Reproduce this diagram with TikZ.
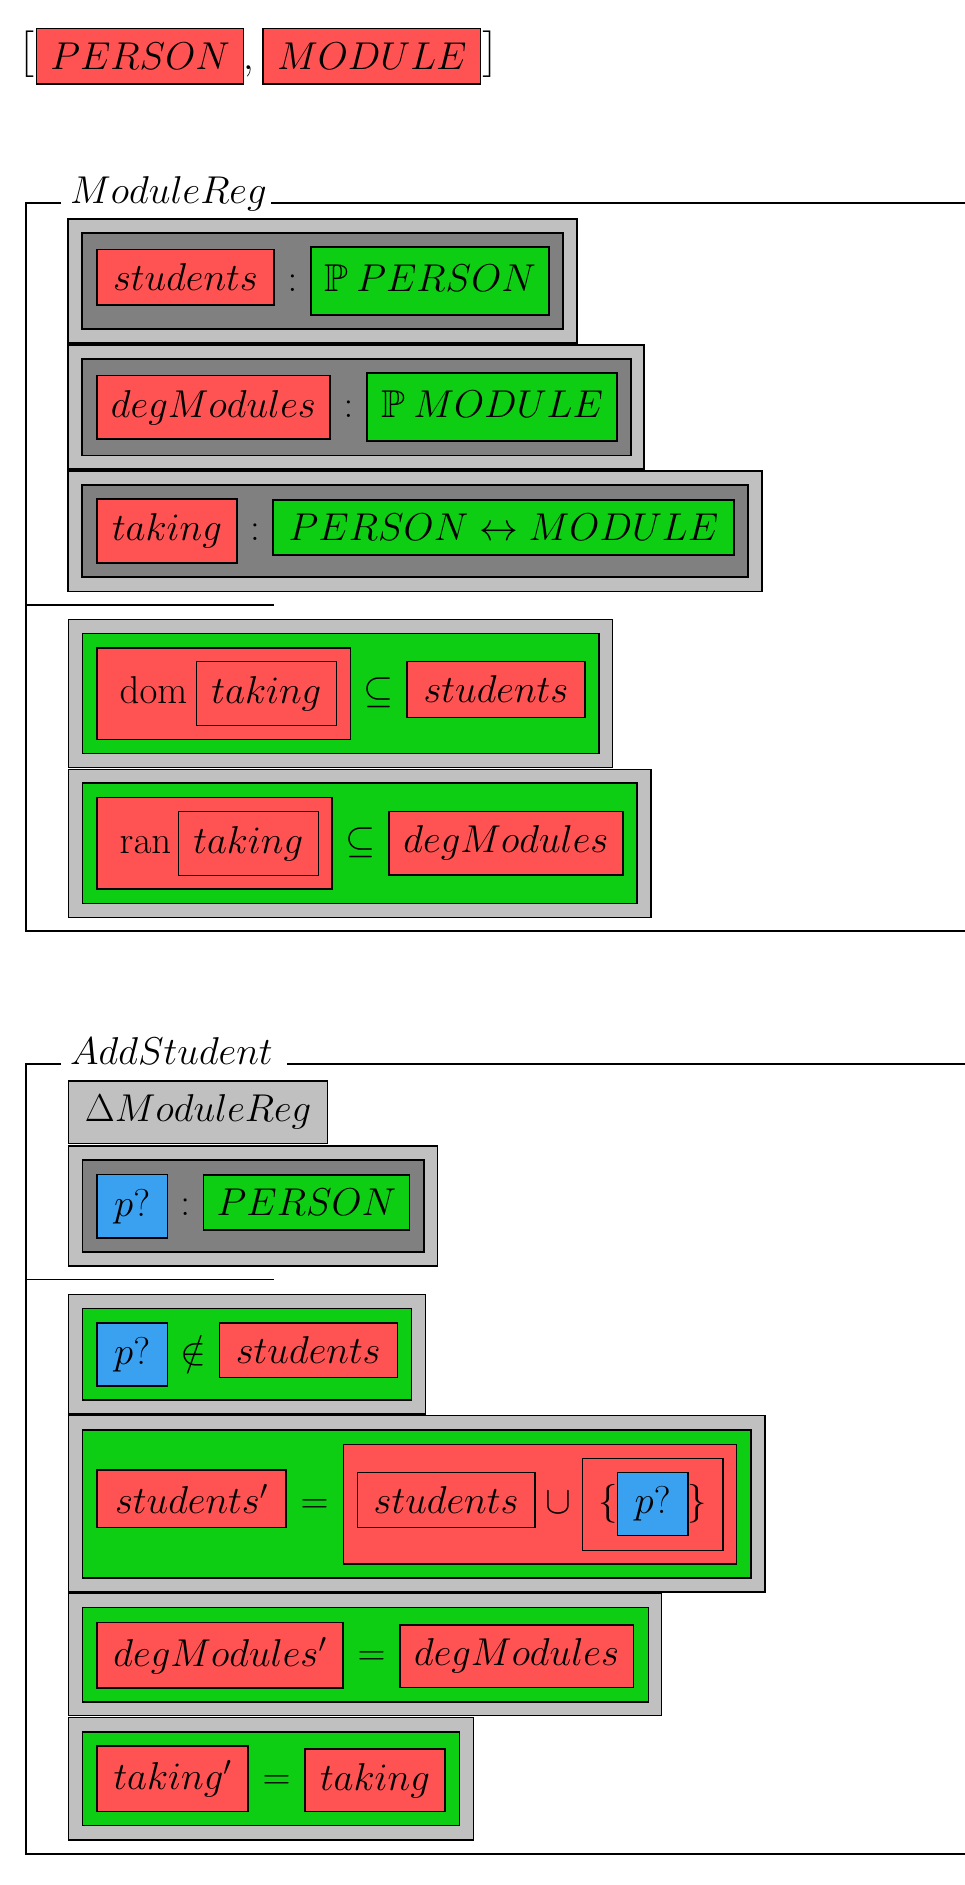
\documentclass[tikz,border=0pt]{standalone}
\usepackage{fix-cm}
\usepackage{amssymb}
\usepackage{tikz}
\usetikzlibrary{calc}

\definecolor{zred}{RGB}{255,82,82}
\definecolor{zgreen}{RGB}{14,206,20}
\definecolor{zblue}{RGB}{58,160,240}
\definecolor{zlight}{RGB}{192,192,192}
\definecolor{zdark}{RGB}{128,128,128}

\tikzset{
	zbox/.style={draw, line width=1.2pt, inner sep=0pt, outer sep=0pt, anchor=north west},
	wh/.style 2 args={minimum width=#1pt, minimum height=#2pt},
	para/.style={zbox, fill=zlight},
	decl/.style={zbox, fill=zdark},
	pred/.style={zbox, fill=zgreen},
	expr/.style={zbox, fill=zred},
	var/.style={zbox, fill=zblue},
	op/.style={inner sep=0pt, anchor=base},
	zline/.style={line width=1.3pt},
}

\begin{document}
\begin{tikzpicture}[x=1pt, y=-1pt, font=\fontsize{38.8}{46}\selectfont]
	\useasboundingbox (0,0) rectangle (965,1885);
	\pgfmathsetmacro{\Xl}{26};
	\pgfmathsetmacro{\Xr}{965};

	\node[expr, wh={207.4}{55.5}] (p0) at (36.4,28.5) {$PERSON$};
	\node[expr, wh={217.7}{55.5}] (m0) at (263,28.5) {$MODULE$};
	\node[op, anchor=east, yshift=1.75pt] (lb) at (p0.west) {$\left[\vrule height 33pt depth 14pt width 0pt\right.$};
	\node[op, anchor=west, yshift=1.75pt] (rb) at (m0.east) {$\left.\vrule height 33pt depth 14pt width 0pt\right]$};
	\node[op, anchor=base west] (cm) at ([xshift=-1pt]p0.base east) {$,$};

	\node[op, anchor=base west] (t1) at (70,203) {$ModuleReg$};
	\draw[zline] (61,203) -- (\Xl,203) -- (\Xl,931) -- (\Xr,931);
	\draw[zline] (271,203) -- (\Xr,203);
	\draw[zline] (\Xl,605) -- (274,605);

	\node[para, wh={509}{124}] (a0) at (68,219) {};
	\node[decl, wh={481}{96}] (a1) at (82,233) {};
	\node[expr, wh={177}{55.5}] (a2) at (97,249.5) {$students$};
	\node[pred, wh={238}{68}, text height=44.8pt, text depth=23.2pt] (a3) at (311,247) {$\mathbb{P}\:PERSON$};
	\node[op] (a4) at ($(a2.base east)!0.5!(a3.base west)$) {$:$};

	\node[para, wh={576}{124}] (b0) at (68,345) {};
	\node[decl, wh={549}{96.5}] (b1) at (82,359) {};
	\node[expr, wh={233}{63.4}] (b2) at (97,375.6) {$degModules$};
	\node[pred, wh={250}{68}, text height=44.3pt, text depth=23.7pt] (b3) at (367,373) {$\mathbb{P}\:MODULE$};
	\node[op] (b4) at ($(b2.base east)!0.5!(b3.base west)$) {$:$};

	\node[para, wh={694}{120.5}] (c0) at (68,471) {};
	\node[decl, wh={666}{92}] (c1) at (82,485) {};
	\node[expr, wh={140}{64}] (c2) at (97,499) {$taking$};
	\node[pred, wh={461}{55}] (c3) at (273,500) {$PERSON \leftrightarrow MODULE$};
	\node[op] (c4) at ($(c2.base east)!0.5!(c3.base west)$) {$:$};

	\node[para, wh={544.4}{148}] (d0) at (68.4,619.3) {};
	\node[pred, wh={516.3}{120.4}] (d1) at (82.7,633.3) {};
	\node[expr, wh={253.5}{91.3}] (d2) at (97,648) {};
	\node[expr, wh={139.7}{63.8}] (d3) at (196.5,661.5) {$taking$};
	\node[op, anchor=base east] (d4) at ([xshift=-9pt]d3.base west) {$\mathrm{dom}$};
	\node[expr, wh={178}{55.6}] (d5) at (407,661.7) {$students$};
	\node[op] (d6) at ($(d2.east |- d5.base)!0.5!(d5.base west)$) {$\subseteq$};

	\node[para, wh={582.6}{148.4}] (e0) at (68.4,769.3) {};
	\node[pred, wh={554.3}{120.3}] (e1) at (82.7,783) {};
	\node[expr, wh={235}{91.3}] (e2) at (97,797.7) {};
	\node[expr, wh={140}{63.7}] (e3) at (178.3,811.5) {$taking$};
	\node[op, anchor=base east] (e4) at ([xshift=-7pt]e3.base west) {$\mathrm{ran}$};
	\node[expr, wh={234}{63.7}] (e5) at (389,811.3) {$degModules$};
	\node[op] (e6) at ($(e2.east |- e5.base)!0.5!(e5.base west)$) {$\subseteq$};

	\node[op, anchor=base west] (t2) at (70,1064) {$AddStudent$};
	\draw[zline] (61,1064) -- (\Xl,1064) -- (\Xl,1854) -- (\Xr,1854);
	\draw[zline] (287.3,1064) -- (\Xr,1064);
	\draw[zline] (\Xl,1279.7) -- (274,1279.7);

	\node[para, wh={259}{62.5}] (f0) at (68.7,1081) {$\Delta ModuleReg$};

	\node[para, wh={369}{120}] (g0) at (68.7,1146) {};
	\node[decl, wh={341.3}{92}] (g1) at (82.7,1160) {};
	\node[var, wh={70.3}{63.3}] (g2) at (97,1174.7) {$p?$};
	\node[pred, wh={206.4}{55}] (g3) at (203.3,1175) {$PERSON$};
	\node[op] (g4) at ($(g2.base east)!0.5!(g3.base west)$) {$:$};

	\node[para, wh={356.6}{119.7}] (h0) at (68.7,1294.3) {};
	\node[pred, wh={328.6}{91.7}] (h1) at (82.7,1308.3) {};
	\node[var, wh={70.3}{63}] (h2) at (97,1323) {$p?$};
	\node[expr, wh={178}{54.7}] (h3) at (219.3,1323) {$students$};
	\node[op] (h4) at ($(h2.base east)!0.5!(h3.base west)$) {$\notin$};

	\node[para, wh={696.3}{176.7}] (i0) at (68.7,1415.3) {};
	\node[pred, wh={668.3}{148}] (i1) at (82.7,1430) {};
	\node[expr, wh={189}{57.6}] (i2) at (97,1470) {$students'$};
	\node[expr, wh={393.4}{119.5}] (i3) at (343.3,1444.5) {};
	\node[expr, wh={177.7}{55.4}] (i4) at (357.3,1472.3) {$students$};
	\node[expr, wh={140.7}{92}] (i5) at (582.3,1458.3) {};
	\node[var, wh={70.7}{63}] (i6) at (617.3,1472.7) {$p?$};
	\node[op] (i7) at ($(i2.base east)!0.5!(i3.west |- i4.base)$) {$=$};
	\node[op] (i8) at ($(i4.base east)!0.5!(i5.west |- i4.base)$) {$\cup$};
	\node[op, anchor=base east] (i9) at ([xshift=1pt]i6.base west) {$\{$};
	\node[op, anchor=base west] (i10) at ([xshift=-1pt]i6.base east) {$\}$};

	\node[para, wh={593}{122}] (j0) at (68.7,1593.7) {};
	\node[pred, wh={565.6}{94.2}] (j1) at (82.7,1607.8) {};
	\node[expr, wh={246}{65.5}] (j2) at (97,1622.5) {$degModules'$};
	\node[expr, wh={233.3}{62.3}] (j3) at (400,1625) {$degModules$};
	\node[op] (j4) at ($(j2.base east)!0.5!(j3.base west)$) {$=$};

	\node[para, wh={404.6}{122.2}] (k0) at (68.7,1717.8) {};
	\node[pred, wh={376.6}{93.7}] (k1) at (82.7,1732) {};
	\node[expr, wh={151}{65.5}] (k2) at (97,1746) {$taking'$};
	\node[expr, wh={140}{62.7}] (k3) at (305,1749) {$taking$};
	\node[op] (k4) at ($(k2.base east)!0.5!(k3.base west)$) {$=$};
\end{tikzpicture}
\end{document}
